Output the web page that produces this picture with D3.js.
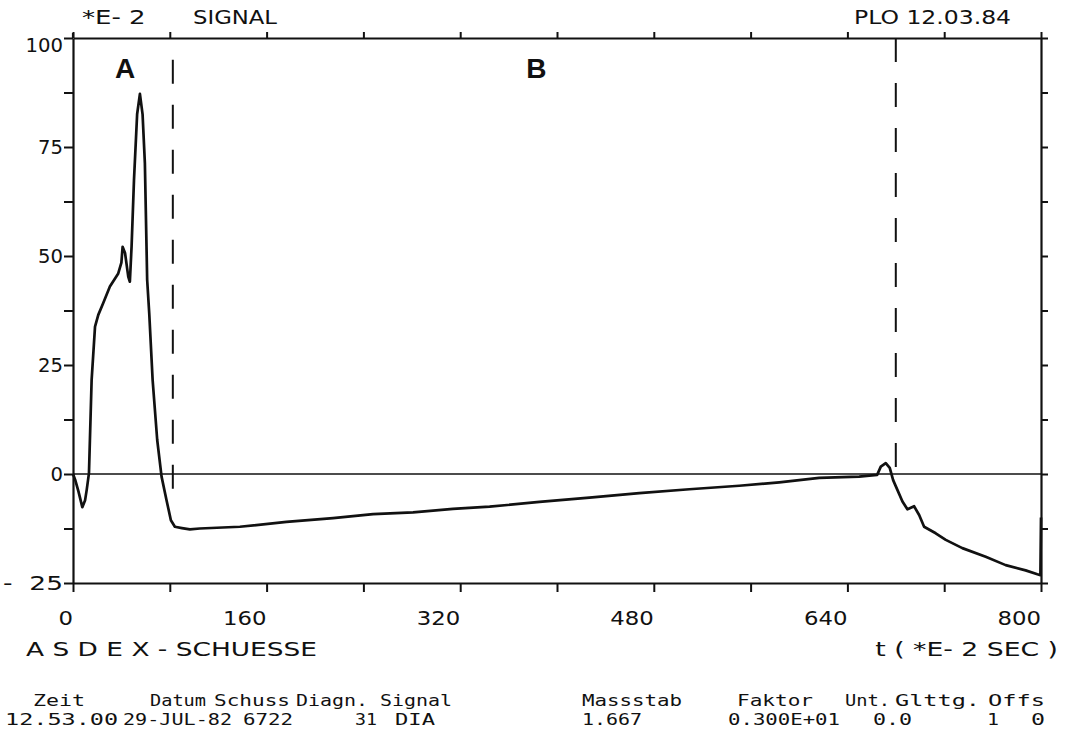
<!DOCTYPE html>
<html>
<head>
<meta charset="utf-8">
<script src="https://cdn.jsdelivr.net/npm/d3@7"></script>
<style>
  body { margin: 0; background: #fff; }
  text { fill: #111; }
  .plot { font-family: "DejaVu Sans", sans-serif; font-size: 19px; }
  .mono { font-family: "DejaVu Sans Mono", monospace; font-size: 16px; }
  .region { font-family: "Liberation Sans", Arial, sans-serif; font-size: 28px; font-weight: bold; }
</style>
</head>
<body>
<div id="chart"></div>
<script>
// Plotter chart of ASDEX shot signal, redrawn with d3
// ---------------------------------------------------

// signal trace (time in *E-2 sec, signal in *E-2)
var signalT = [0, 2, 4.5, 7.7, 10, 11.3, 13.2, 15.4, 18.2, 20.9, 25, 30.5, 37.4, 40, 41, 43,
  45.7, 47, 48.4, 50.4, 53, 55.3, 57.5, 59.4, 61.3, 63, 65.8, 69.6, 73.2, 77.3, 80.9, 84.2,
  90, 96.6, 104.8, 137.9, 176.4, 214.9, 248, 281, 314, 344.3, 385.5, 426.8, 468, 509.4,
  550.6, 583.7, 616.7, 649.7, 664.6, 667.6, 671.7, 675, 677.8, 681.4, 685.5, 689.6, 692,
  695.1, 699.3, 703.4, 713, 721.3, 735, 754.3, 770.8, 787.3, 797, 799.5, 800];
var signalV = [0, -1.5, -4, -7.6, -6, -3.7, 0.2, 21.6, 33.8, 36.5, 39.2, 43, 46, 48.5, 52.1, 50.7,
  45.2, 44.1, 52.1, 67.4, 82.5, 87.2, 82.5, 71.3, 44.5, 36.9, 21.6, 7.8, -0.6, -6, -10.6, -12.1,
  -12.4, -12.7, -12.5, -12.1, -11, -10.1, -9.2, -8.8, -8.0, -7.5, -6.4, -5.4, -4.4, -3.5,
  -2.7, -1.9, -0.9, -0.6, -0.2, 1.7, 2.5, 1.4, -1.4, -3.7, -6.3, -8.1, -7.8,
  -7.4, -9.4, -12.1, -13.6, -15.1, -17, -19, -20.9, -22.1, -23, -23.2, -10];

// dashed phase boundaries
var markerT = [82.5, 680];
var markerTop = [95, 100];
var markerBottom = [-8, -1];
var regionNames = ["A", "B"];
var regionT = [43, 383];

// axis ticks and labels
var xTickValues = [0, 160, 320, 480, 640, 800];
var xTickLabels = ["0", "160", "320", "480", "640", "800"];
var yTickValues = [-25, 0, 25, 50, 75, 100];
var yTickLabels = ["-  25", "0", "25", "50", "75", "100"];

// footer table
var tableHeads = ["Zeit", "Datum", "Schuss", "Diagn.", "Signal", "Massstab", "Faktor", "Unt.", "Glttg.", "Offs"];
var tableValues = ["12.53.00", "29-JUL-82", "6722", "31", "DIA", "1.667", "0.300E+01", "0.0", "1", "0"];

// =============================================================================

var width = 1068;
var height = 733;

var margin = { top: 38, right: 27, bottom: 150, left: 73 };
var chartWidth = width - margin.left - margin.right;
var chartHeight = height - margin.top - margin.bottom;

var svg = d3.select("#chart")
  .append("svg")
  .attr("width", width)
  .attr("height", height);

svg.append("rect")
  .attr("width", width)
  .attr("height", height)
  .attr("fill", "#fff");

var chartGroup = svg.append("g")
  .attr("transform", `translate(${margin.left}, ${margin.top})`);

var xScale = d3.scaleLinear().domain([0, 800]).range([0, chartWidth]);
var yScale = d3.scaleLinear().domain([-25, 100]).range([chartHeight, 0]);

// frame axes, ticks only (labels drawn by hand in plotter style)
var xTicks = d3.range(0, 801, 80);
var yTicks = d3.range(-25, 100.1, 12.5);

var axes = [
  { axis: d3.axisBottom(xScale).tickValues(xTicks).tickSize(9), t: `translate(0, ${chartHeight})` },
  { axis: d3.axisTop(xScale).tickValues(xTicks).tickSize(6), t: "translate(0, 0)" },
  { axis: d3.axisLeft(yScale).tickValues(yTicks).tickSize(9), t: "translate(0, 0)" },
  { axis: d3.axisRight(yScale).tickValues(yTicks).tickSize(7), t: `translate(${chartWidth}, 0)` }
];

axes.forEach(function(a) {
  var g = chartGroup.append("g")
    .attr("transform", a.t)
    .call(a.axis.tickSizeOuter(0).tickFormat(""));
  g.select(".domain").attr("stroke", "#111").attr("stroke-width", 2.2);
  g.selectAll(".tick line").attr("stroke", "#111").attr("stroke-width", 2);
});

// left axis pokes a little above the frame, as on the plot
chartGroup.append("line")
  .attr("x1", 0).attr("x2", 0)
  .attr("y1", -5).attr("y2", 0)
  .attr("stroke", "#111").attr("stroke-width", 2.2);

// zero line
chartGroup.append("line")
  .attr("x1", xScale(0))
  .attr("x2", xScale(800))
  .attr("y1", yScale(0))
  .attr("y2", yScale(0))
  .attr("stroke", "#111")
  .attr("stroke-width", 1.6);

// dashed boundaries
markerT.forEach(function(t, i) {
  chartGroup.append("line")
    .attr("x1", xScale(t))
    .attr("x2", xScale(t))
    .attr("y1", yScale(markerTop[i]))
    .attr("y2", yScale(markerBottom[i]))
    .attr("stroke", "#111")
    .attr("stroke-width", 2)
    .attr("stroke-dasharray", "24,21");
});

// signal curve
var signalData = signalT.map(function(t, i) { return [t, signalV[i]]; });

var lineGen = d3.line()
  .x(d => xScale(d[0]))
  .y(d => yScale(d[1]));

chartGroup.append("path")
  .datum(signalData)
  .attr("d", lineGen)
  .attr("fill", "none")
  .attr("stroke", "#111")
  .attr("stroke-width", 2.7)
  .attr("stroke-linejoin", "round");

// region letters
regionNames.forEach(function(name, i) {
  chartGroup.append("text")
    .attr("class", "region")
    .attr("x", xScale(regionT[i]))
    .attr("y", yScale(90.8))
    .attr("text-anchor", "middle")
    .text(name);
});

// plotter text helper: stretch each string to a fixed width per character
function plotText(parent, str, x, y, charW, anchor) {
  return parent.append("text")
    .attr("class", "plot")
    .attr("x", x)
    .attr("y", y)
    .attr("text-anchor", anchor || "start")
    .attr("textLength", str.replace(/ /g, "").length * charW + (str.split(" ").length - 1) * charW * 0.9)
    .attr("lengthAdjust", "spacingAndGlyphs")
    .style("white-space", "pre")
    .text(str);
}

// y tick labels, right-aligned against the ticks
yTickValues.forEach(function(v, i) {
  var ty = Math.max(yScale(v), 7) + margin.top + 7;
  plotText(svg, yTickLabels[i], margin.left - 10, ty, 12.5, "end");
});

// x tick labels, right edge on the tick
xTickValues.forEach(function(v, i) {
  plotText(svg, xTickLabels[i], margin.left + xScale(v), 625, 14.5, "end");
});

// header and axis titles
plotText(svg, "*E- 2", 82, 24, 13);
plotText(svg, "SIGNAL", 193, 24, 14);
plotText(svg, "PLO 12.03.84", 854, 24, 13.2);
plotText(svg, "A S D E X - SCHUESSE", 26, 656, 15);
plotText(svg, "t ( *E- 2 SEC )", 1058, 656, 12.6, "end");

// footer table: start x and printed width of each cell
var headX = [33, 150, 214, 296, 380, 582, 737, 845, 895, 988];
var headW = [52, 56, 76, 72, 72, 100, 76, 45, 85, 57];
var valueX = [5, 123, 243, 355, 395, 582, 728, 873, 987, 1031];
var valueW = [113, 109, 50, 22, 40, 60, 112, 39, 12, 14];

tableHeads.forEach(function(h, i) {
  svg.append("text")
    .attr("class", "mono")
    .attr("x", headX[i])
    .attr("y", 706)
    .attr("textLength", headW[i])
    .attr("lengthAdjust", "spacingAndGlyphs")
    .text(h);
});

tableValues.forEach(function(v, i) {
  svg.append("text")
    .attr("class", "mono")
    .attr("x", valueX[i])
    .attr("y", 725)
    .attr("textLength", valueW[i])
    .attr("lengthAdjust", "spacingAndGlyphs")
    .text(v);
});
</script>
</body>
</html>
